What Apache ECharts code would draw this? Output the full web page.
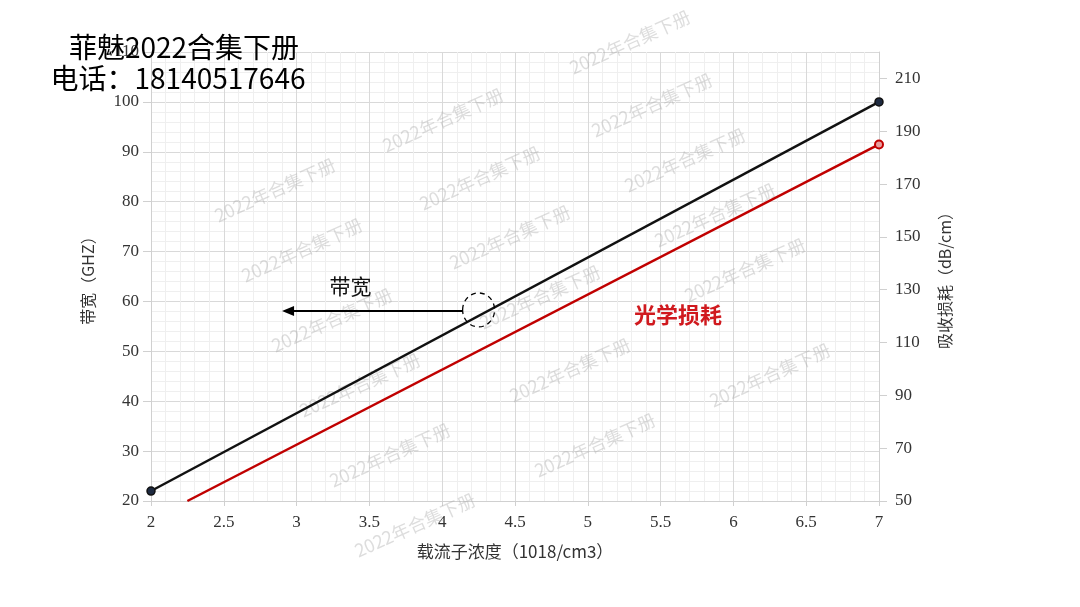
<!DOCTYPE html>
<html>
<head>
<meta charset="utf-8">
<script src="https://cdn.jsdelivr.net/npm/echarts@6/dist/echarts.min.js"></script>
<style>html,body{margin:0;padding:0;background:#fff}#c{width:1080px;height:607px}</style>
</head>
<body>
<div id="c"></div>
<script>
// ---- data ----
const bandwidthX = [2, 7];
const bandwidthY = [22, 100];
const lossX = [2.25, 7];
const lossY = [50, 185];
const xAxisName = '载流子浓度（1018/cm3）';
const leftAxisName = '带宽（GHZ）';
const rightAxisName = '吸收损耗（dB/cm）';
const overlayLines = ['菲魅2022合集下册', '电话：18140517646'];
const watermarkText = '2022年合集下册';
// watermark anchor positions (pixels, as seen on the picture)
const watermarkPos = [[630,42],[443,120],[652,105],[275,190],[480,178],[685,160],[302,250],[510,237],[715,215],[332,320],[540,297],[745,270],[360,385],[570,370],[770,375],[390,455],[595,445],[415,525]];
// annotations in data units
const bwLabel = {x: 3.37, y: 63, text: '带宽'};
const bwArrow = {x1: 4.14, x2: 2.9, y: 58.1};
const bwCircle = {x: 4.25, y: 58.3};
const lossLabel = {x: 5.62, y: 57.3, text: '光学损耗'};

const serif = '"Liberation Serif","DejaVu Serif",serif';
const cjk = '"Noto Sans CJK SC","Noto Sans",sans-serif';

const chart = echarts.init(document.getElementById('c'));
const majorColor = '#d9d9d9', minorColor = '#efefef';
chart.setOption({
  animation: false,
  backgroundColor: '#fff',
  grid: {left: 151, right: 201, top: 52, bottom: 106},
  xAxis: {
    type: 'value', min: 2, max: 7, interval: 0.5,
    name: xAxisName, nameLocation: 'middle', nameGap: 42,
    nameTextStyle: {fontFamily: cjk, fontSize: 17, color: '#333'},
    axisLine: {show: true, lineStyle: {color: '#d0d0d0'}},
    axisTick: {show: true, length: 5, lineStyle: {color: '#d0d0d0'}},
    axisLabel: {fontFamily: serif, fontSize: 17, color: '#333', margin: 13},
    splitLine: {show: true, lineStyle: {color: majorColor}},
    minorTick: {show: false, splitNumber: 5},
    minorSplitLine: {show: true, lineStyle: {color: minorColor}}
  },
  yAxis: [{
    type: 'value', min: 20, max: 110, interval: 10, position: 'left',
    name: leftAxisName, nameLocation: 'middle', nameGap: 55, nameRotate: 90,
    nameTextStyle: {fontFamily: cjk, fontSize: 16, color: '#333'},
    axisLine: {show: true, lineStyle: {color: '#d0d0d0'}},
    axisTick: {show: true, length: 8, lineStyle: {color: '#d0d0d0'}},
    axisLabel: {fontFamily: serif, fontSize: 17, color: '#333', margin: 12},
    splitLine: {show: true, lineStyle: {color: majorColor}},
    minorTick: {show: false, splitNumber: 5},
    minorSplitLine: {show: true, lineStyle: {color: minorColor}}
  }, {
    type: 'value', min: 50, max: 220, interval: 20, position: 'right',
    name: rightAxisName, nameLocation: 'middle', nameGap: 58, nameRotate: 90,
    nameTextStyle: {fontFamily: cjk, fontSize: 16, color: '#333'},
    axisLine: {show: true, lineStyle: {color: '#d0d0d0'}},
    axisTick: {show: true, length: 8, lineStyle: {color: '#d0d0d0'}},
    axisLabel: {fontFamily: serif, fontSize: 17, color: '#333', margin: 16, showMaxLabel: false},
    splitLine: {show: false}
  }],
  series: [{
    type: 'line', yAxisIndex: 0,
    data: bandwidthX.map((x, i) => [x, bandwidthY[i]]),
    symbol: 'circle', symbolSize: 8,
    lineStyle: {color: '#111', width: 2.5},
    itemStyle: {color: '#1e2a40', borderColor: '#111', borderWidth: 1.5},
    z: 3
  }, {
    type: 'line', yAxisIndex: 1,
    data: lossX.map((x, i) => i === 0 ? {value: [x, lossY[i]], symbol: 'none'} : [x, lossY[i]]),
    symbol: 'circle', symbolSize: 8,
    lineStyle: {color: '#c00000', width: 2.5},
    itemStyle: {color: '#e8a0a0', borderColor: '#c00000', borderWidth: 2},
    z: 3
  }]
});

function px(x, y) { return chart.convertToPixel({xAxisIndex: 0, yAxisIndex: 0}, [x, y]); }

const graphics = [];
watermarkPos.forEach(p => {
  graphics.push({
    type: 'text', x: p[0], y: p[1], rotation: 0.42, z: 1, silent: true,
    style: {text: watermarkText, fill: 'rgba(170,170,170,0.4)', font: '18px "Noto Sans CJK SC"', textAlign: 'center', textVerticalAlign: 'middle'}
  });
});
const a1 = px(bwArrow.x1, bwArrow.y), a2 = px(bwArrow.x2, bwArrow.y);
graphics.push({type: 'line', shape: {x1: a1[0], y1: a1[1], x2: a2[0] + 10, y2: a2[1]}, style: {stroke: '#000', lineWidth: 2}, z: 10});
graphics.push({type: 'polygon', shape: {points: [[a2[0], a2[1]], [a2[0] + 12, a2[1] - 5], [a2[0] + 12, a2[1] + 5]]}, style: {fill: '#000'}, z: 10});
const c = px(bwCircle.x, bwCircle.y);
graphics.push({type: 'ellipse', shape: {cx: c[0], cy: c[1], rx: 16, ry: 17}, style: {fill: null, stroke: '#000', lineWidth: 1.3, lineDash: [5, 4]}, z: 10});
const bl = px(bwLabel.x, bwLabel.y);
graphics.push({type: 'text', x: bl[0], y: bl[1], z: 10, style: {text: bwLabel.text, font: '21px "Noto Sans CJK SC"', fill: '#111', textAlign: 'center', textVerticalAlign: 'middle'}});
const ll = px(lossLabel.x, lossLabel.y);
graphics.push({type: 'text', x: ll[0], y: ll[1], z: 10, style: {text: lossLabel.text, font: 'bold 22px "Noto Sans CJK SC"', fill: '#d0191e', textAlign: 'center', textVerticalAlign: 'middle'}});
graphics.push({type: 'text', x: 184, y: 47, z: 20, style: {text: overlayLines[0], font: '28px "Noto Sans CJK SC"', fill: '#000', textAlign: 'center', textVerticalAlign: 'middle'}});
graphics.push({type: 'text', x: 178, y: 78, z: 20, style: {text: overlayLines[1], font: '28px "Noto Sans CJK SC"', fill: '#000', textAlign: 'center', textVerticalAlign: 'middle'}});
chart.setOption({graphic: graphics});
</script>
</body>
</html>
